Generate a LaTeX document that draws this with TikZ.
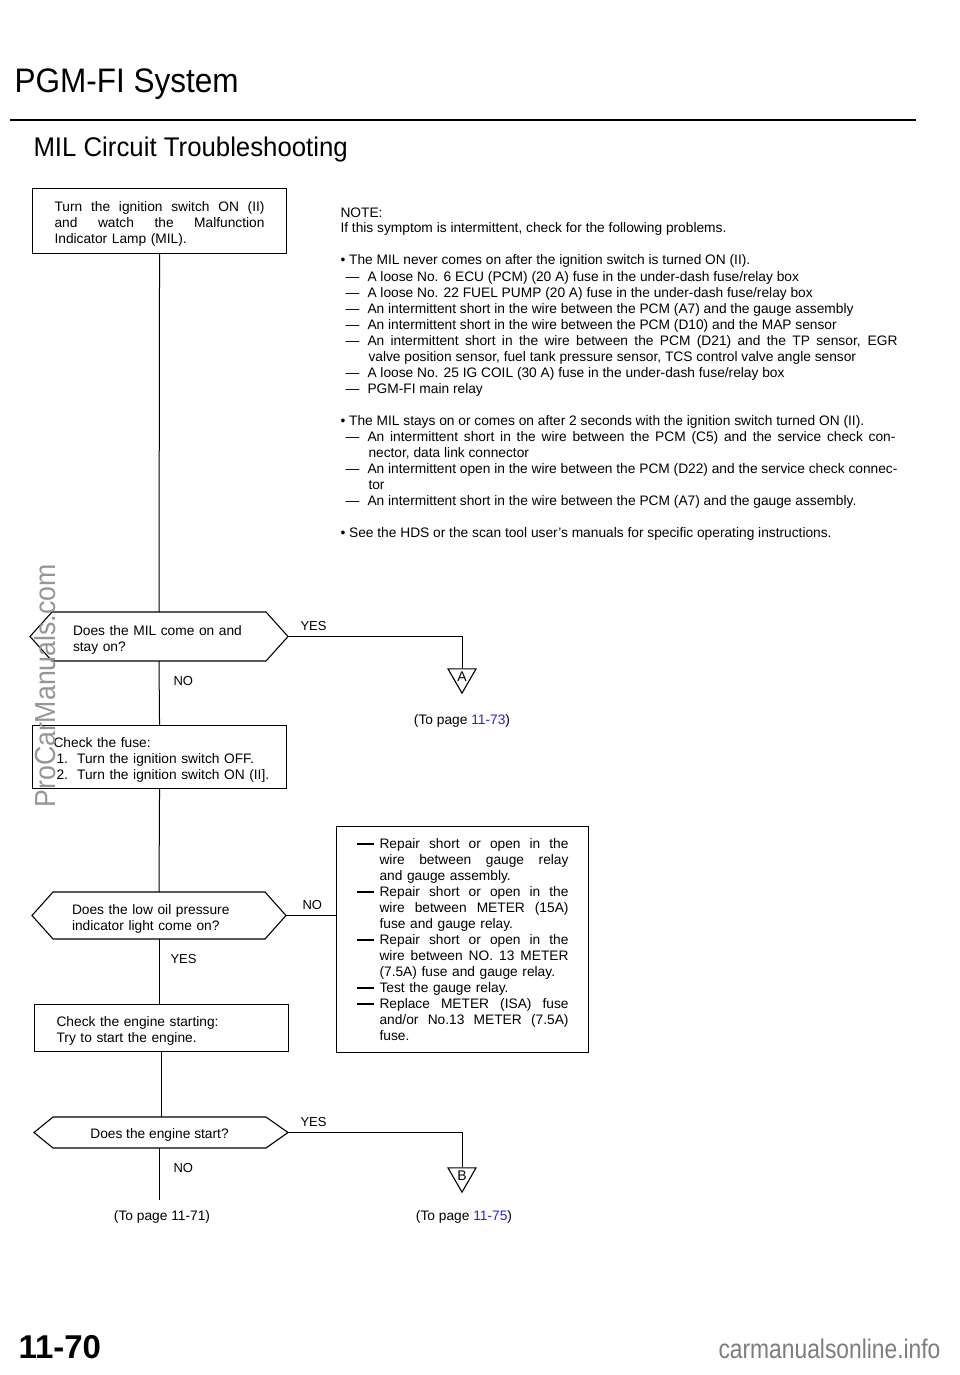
\documentclass[tikz,border=0pt]{standalone}
\usepackage{fontspec}
\usepackage{graphicx}
\setmainfont{Liberation Sans}
\usetikzlibrary{shapes.geometric,calc}
\definecolor{linkblue}{RGB}{35,35,235}
\definecolor{wmgray}{RGB}{125,125,125}
\definecolor{wmlight}{RGB}{150,150,150}
\newcommand\fs{\fontsize{13.75}{16}\selectfont}
\newcommand\jl[2]{{\spaceskip=0pt\xspaceskip=0pt\makebox[#1][s]{#2}}}
\newcommand\dl{\makebox[22pt][l]{—}}
\newcommand\bdash{\makebox[23pt][l]{\rule[3.6pt]{17pt}{1.5pt}}}
\newcommand\ind{\hspace*{23pt}}
\newcommand\up{\rule{0pt}{16pt}}
\begin{document}
\begin{tikzpicture}[x=1pt,y=-1pt,line width=1pt,
  tx/.style={inner sep=0pt,anchor=base west,font=\fs},
  lbl/.style={inner sep=0pt,anchor=base west,font=\fontsize{13}{15}\selectfont},
  topage/.style={inner sep=0pt,anchor=base,font=\fs},
  box/.style={draw,line width=1.1pt,anchor=north west,inner ysep=0pt,align=left,font=\fs},
  dec/.style={anchor=north west,inner ysep=0pt,outer sep=0pt,align=left,font=\fs},
  hexa/.style={line width=1.1pt,line join=miter},
  conn/.style={line width=1pt},
  tri/.style={draw,line width=1.1pt,regular polygon,regular polygon sides=3,shape border rotate=180,minimum size=32.3pt,inner sep=0pt,font=\fontsize{14}{14}\selectfont}
]
\fill[white] (0,0) rectangle (960,1375);
\path[use as bounding box] (0,0) rectangle (960,1375);

% headings
\node[inner sep=0pt,anchor=base west,font=\fontsize{34}{36}\selectfont] (title) at (14,93) {\scalebox{0.927}[1]{PGM-FI System}};
\draw[line width=2.4pt] (10,120) -- (916,120);
\node[inner sep=0pt,anchor=base west,font=\fontsize{27}{30}\selectfont] (subtitle) at (33,157) {\scalebox{0.955}[1]{MIL Circuit Troubleshooting}};

% note
\node[tx] (n1) at (340,217) {NOTE:};
\node[tx] (n2) at (340,233) {If this symptom is intermittent, check for the following problems.};
\node[tx] (n3) at (340,264) {• The MIL never comes on after the ignition switch is turned ON (II).};
\node[tx] (n4) at (345,281) {\dl A loose No. 6 ECU (PCM) (20 A) fuse in the under-dash fuse/relay box};
\node[tx] (n5) at (345,297) {\dl A loose No. 22 FUEL PUMP (20 A) fuse in the under-dash fuse/relay box};
\node[tx] (n6) at (345,313) {\dl An intermittent short in the wire between the PCM (A7) and the gauge assembly};
\node[tx] (n7) at (345,329) {\dl An intermittent short in the wire between the PCM (D10) and the MAP sensor};
\node[tx] (n8) at (345,345) {\jl{552pt}{\dl An intermittent short in the wire between the PCM (D21) and the TP sensor, EGR}};
\node[tx] (n9) at (368,361) {valve position sensor, fuel tank pressure sensor, TCS control valve angle sensor};
\node[tx] (n10) at (345,377) {\dl A loose No. 25 IG COIL (30 A) fuse in the under-dash fuse/relay box};
\node[tx] (n11) at (345,393) {\dl PGM-FI main relay};
\node[tx] (n12) at (340,425) {• The MIL stays on or comes on after 2 seconds with the ignition switch turned ON (II).};
\node[tx] (n13) at (345,441) {\jl{550pt}{\dl An intermittent short in the wire between the PCM (C5) and the service check con-}};
\node[tx] (n14) at (368,457) {nector, data link connector};
\node[tx] (n15) at (345,473) {\jl{552pt}{\dl An intermittent open in the wire between the PCM (D22) and the service check connec-}};
\node[tx] (n16) at (368,489) {tor};
\node[tx] (n17) at (345,505) {\dl An intermittent short in the wire between the PCM (A7) and the gauge assembly.};
\node[tx] (n18) at (340,537) {• See the HDS or the scan tool user's manuals for specific operating instructions.};

% flowchart nodes
\node[box,minimum width=254pt,minimum height=65pt,inner xsep=22pt,text width=210pt] (b1) at (32,188)
  {\up\jl{210pt}{Turn the ignition switch ON (II)}\\ \jl{210pt}{and watch the Malfunction}\\ Indicator Lamp (MIL).};

\node[dec,minimum width=214pt,minimum height=49pt,inner xsep=21pt,text width=172pt] (d1) at (52,612)
  {\up Does the MIL come on and\\ stay on?};
\coordinate (d1w) at ($(d1.west)+(-22,0)$);
\coordinate (d1e) at ($(d1.east)+(22,0)$);
\draw[hexa] (d1.north west) -- (d1.north east) -- (d1e) -- (d1.south east) -- (d1.south west) -- (d1w) -- cycle;

\node[tri] (A) at (462,677) {A};

\node[box,minimum width=254pt,minimum height=63pt,inner xsep=21pt,text width=212pt] (b2) at (32,725)
  {\mbox{\up Check the fuse:}\\ \mbox{\hspace*{3pt}1.\ \ Turn the ignition switch OFF.}\\ \mbox{\hspace*{3pt}2.\ \ Turn the ignition switch ON (II].}};

\node[dec,minimum width=212pt,minimum height=47pt,inner xsep=19pt,text width=174pt] (d2) at (53,892)
  {\up Does the low oil pressure\\ indicator light come on?};
\coordinate (d2w) at ($(d2.west)+(-21,0)$);
\coordinate (d2e) at ($(d2.east)+(21,0)$);
\draw[hexa] (d2.north west) -- (d2.north east) -- (d2e) -- (d2.south east) -- (d2.south west) -- (d2w) -- cycle;

\node[box,minimum width=252pt,minimum height=226pt,inner xsep=20pt,text width=212pt] (b3) at (336,826) {%
\bdash\jl{189pt}{Repair short or open in the}\\
\ind\jl{189pt}{wire between gauge relay}\\
\ind and gauge assembly.\\
\bdash\jl{189pt}{Repair short or open in the}\\
\ind\jl{189pt}{wire between METER (15A)}\\
\ind fuse and gauge relay.\\
\bdash\jl{189pt}{Repair short or open in the}\\
\ind\jl{189pt}{wire between NO. 13 METER}\\
\ind(7.5A) fuse and gauge relay.\\
\bdash Test the gauge relay.\\
\bdash\jl{189pt}{Replace METER (ISA) fuse}\\
\ind\jl{189pt}{and/or No.13 METER (7.5A)}\\
\ind fuse.};

\node[box,minimum width=254pt,minimum height=47pt,inner xsep=22pt,text width=210pt] (b4) at (34,1004)
  {\up Check the engine starting:\\ Try to start the engine.};

\node[dec,minimum width=213pt,minimum height=31pt,inner xsep=0pt,align=center] (d3) at (53,1117)
  {\rule{0pt}{14pt}Does the engine start?};
\coordinate (d3w) at ($(d3.west)+(-19,0)$);
\coordinate (d3e) at ($(d3.east)+(22,0)$);
\draw[hexa] (d3.north west) -- (d3.north east) -- (d3e) -- (d3.south east) -- (d3.south west) -- (d3w) -- cycle;

\node[tri] (B) at (462,1176) {B};
\coordinate (tail) at ($(d3.south)+(0,52)$);

% connectors
\draw[conn] (b1.south) -- (d1.north);
\draw[conn] (d1e) -| (A.north);
\draw[conn] (d1.south) -- (b2.north);
\draw[conn] (b2.south) -- (d2.north);
\draw[conn] (d2e) -- (d2e -| b3.west);
\draw[conn] (d2.south) -- (d2.south |- b4.north);
\draw[conn] (b4.south) -- (b4.south |- d3.north);
\draw[conn] (d3e) -| (B.north);
\draw[conn] (d3.south) -- (tail);

% labels
\node[lbl] (y1) at (300,630) {YES};
\node[lbl] (no1) at (173,685) {NO};
\node[lbl] (no2) at (302,909) {NO};
\node[lbl] (y2) at (170,963) {YES};
\node[lbl] (y3) at (300,1126) {YES};
\node[lbl] (no3) at (173,1172) {NO};

\node[topage] (pA) at (462,724) {(To page \textcolor{linkblue}{11-73})};
\node[topage] (p71) at (162,1220) {(To page 11-71)};
\node[topage] (pB) at (464,1220) {(To page \textcolor{linkblue}{11-75})};

% footer
\node[inner sep=0pt,anchor=base west,font=\fontsize{33}{36}\selectfont\bfseries] (pageno) at (18,1358) {11-70};
\node[inner sep=0pt,anchor=base west,font=\fontsize{27}{30}\selectfont,text=wmgray] (wm2) at (718,1358) {\scalebox{0.845}[1]{carmanualsonline.info}};
\node[inner sep=0pt,anchor=base west,rotate=90,font=\fontsize{29}{32}\selectfont,text=wmlight] (wm1) at (55,808) {\scalebox{0.92}[1]{ProCarManuals.com}};
\end{tikzpicture}
\end{document}
